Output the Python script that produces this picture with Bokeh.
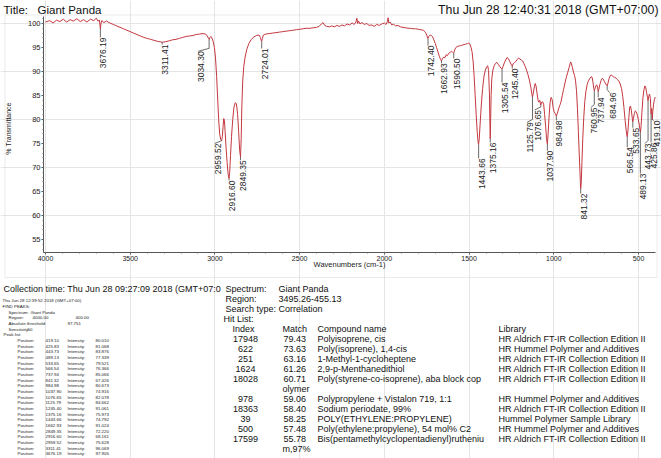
import math
from bokeh.plotting import figure
from bokeh.models import (Range1d, LabelSet, ColumnDataSource, BoxAnnotation,
                          FixedTicker, LinearAxis)
from bokeh.core.properties import value
from bokeh.embed import file_html
from bokeh.resources import INLINE

# ---------------- data ----------------
wavenumber = [
    4000, 3975, 3955, 3935, 3915, 3895, 3875, 3855, 3835, 3815, 3795, 3775, 3755, 3735, 3715, 3700,
    3690, 3682, 3678, 3676, 3673, 3668, 3655, 3640, 3620, 3600, 3580, 3560, 3540, 3520, 3500, 3480,
    3460, 3440, 3420, 3400, 3380, 3360, 3340, 3311, 3290, 3270, 3250, 3230, 3210, 3190, 3170, 3150,
    3130, 3110, 3090, 3070, 3055, 3045, 3038, 3034, 3029, 3024, 3018, 3010, 3003, 2997, 2990, 2984,
    2978, 2972, 2966, 2960, 2956, 2952, 2948, 2944, 2940, 2934, 2928, 2922, 2917, 2913, 2908, 2902,
    2895, 2888, 2880, 2873, 2866, 2860, 2854, 2849, 2845, 2841, 2836, 2830, 2822, 2812, 2800, 2785,
    2770, 2755, 2740, 2732, 2726, 2724, 2720, 2714, 2700, 2680, 2660, 2640, 2620, 2600, 2580, 2560,
    2540, 2520, 2500, 2480, 2460, 2440, 2420, 2400, 2385, 2372, 2362, 2352, 2340, 2325, 2310, 2295,
    2280, 2265, 2250, 2235, 2220, 2205, 2190, 2178, 2168, 2162, 2158, 2152, 2144, 2132, 2118, 2104,
    2090, 2075, 2060, 2045, 2030, 2015, 2000, 1990, 1982, 1978, 1974, 1966, 1956, 1946, 1935, 1920,
    1905, 1890, 1875, 1860, 1845, 1830, 1815, 1800, 1785, 1770, 1758, 1750, 1745, 1742, 1738, 1730,
    1722, 1715, 1708, 1700, 1692, 1684, 1676, 1668, 1663, 1658, 1650, 1642, 1635, 1628, 1620, 1612,
    1604, 1597, 1591, 1585, 1578, 1570, 1560, 1550, 1540, 1530, 1520, 1510, 1502, 1495, 1488, 1482,
    1476, 1470, 1464, 1458, 1452, 1447, 1444, 1440, 1435, 1428, 1420, 1412, 1404, 1396, 1390, 1385,
    1380, 1377, 1375, 1373, 1370, 1366, 1360, 1352, 1344, 1336, 1328, 1320, 1312, 1306, 1300, 1292,
    1284, 1276, 1268, 1260, 1252, 1245, 1240, 1232, 1224, 1216, 1208, 1200, 1192, 1184, 1176, 1168,
    1160, 1152, 1144, 1136, 1130, 1126, 1121, 1115, 1110, 1105, 1099, 1093, 1088, 1083, 1077, 1072,
    1066, 1060, 1054, 1048, 1043, 1038, 1034, 1028, 1022, 1016, 1010, 1004, 998, 991, 985, 979,
    972, 965, 958, 950, 942, 934, 926, 918, 910, 904, 900, 896, 890, 884, 878, 872,
    866, 860, 855, 850, 846, 843, 841, 838, 834, 829, 823, 817, 810, 803, 796, 788,
    780, 774, 769, 764, 761, 757, 751, 746, 742, 738, 734, 728, 721, 714, 708, 701,
    694, 688, 685, 680, 674, 668, 662, 655, 648, 640, 632, 624, 616, 608, 600, 593,
    586, 579, 573, 567, 562, 557, 552, 547, 542, 537, 534, 530, 525, 519, 513, 507,
    501, 495, 491, 489, 485, 480, 474, 468, 462, 457, 452, 447, 444, 440, 435, 430,
    426, 423, 421, 419, 416, 411, 406, 402, 400,
]
transmittance = [
    100.3, 100.6, 100.1, 100.7, 100.4, 100.9, 100.3, 100.8, 100.5, 101.0, 100.4, 100.8, 100.3, 100.9, 100.6, 101.1,
    100.5, 100.7, 99.6, 98.8, 99.9, 100.6, 100.2, 100.5, 100.1, 99.8, 99.5, 99.2, 98.9, 98.6, 98.3, 98.0,
    97.7, 97.4, 97.1, 96.9, 96.7, 96.5, 96.3, 96.1, 96.2, 96.4, 96.6, 96.7, 96.9, 97.1, 97.3, 97.4,
    97.5, 97.7, 97.8, 97.9, 97.8, 97.4, 96.9, 96.7, 97.1, 97.3, 97.0, 96.2, 95.0, 93.0, 89.0, 84.5,
    80.0, 77.0, 75.8, 75.6, 76.5, 78.5, 80.2, 79.8, 77.5, 74.0, 71.0, 68.6, 67.7, 69.0, 72.5, 76.5,
    80.0, 82.5, 83.5, 83.3, 81.0, 77.5, 73.5, 72.2, 76.0, 83.0, 88.0, 91.0, 93.0, 94.6, 95.8, 96.7,
    97.2, 97.5, 97.6, 97.1, 96.4, 96.3, 96.9, 97.6, 97.8, 97.9, 98.0, 98.1, 98.2, 98.3, 98.4, 98.5,
    98.6, 98.7, 98.8, 98.9, 99.0, 99.0, 99.1, 99.2, 99.4, 99.9, 100.2, 99.6, 99.4, 99.3, 99.5, 99.3,
    99.6, 99.4, 99.7, 99.5, 99.9, 99.7, 100.1, 99.8, 100.3, 101.1, 100.0, 100.5, 99.9, 100.2, 99.8, 100.0,
    99.6, 99.7, 99.4, 99.8, 99.6, 99.9, 100.1, 99.8, 100.4, 101.2, 100.1, 100.3, 99.7, 99.9, 99.5, 99.6,
    99.3, 99.2, 99.1, 99.0, 99.0, 98.9, 98.9, 98.8, 98.7, 98.6, 98.2, 97.6, 97.0, 96.9, 97.3, 97.6,
    97.5, 97.2, 96.6, 95.9, 95.0, 94.1, 93.2, 92.5, 92.2, 92.6, 93.0, 92.9, 93.5, 93.3, 93.8, 94.0,
    94.2, 94.0, 93.8, 94.5, 95.0, 95.2, 95.3, 95.4, 95.5, 95.6, 95.7, 95.8, 95.9, 95.7, 95.0, 94.0,
    92.0, 89.0, 85.0, 81.0, 77.5, 75.3, 74.8, 76.0, 79.0, 83.0, 86.5, 89.0, 90.3, 91.0, 91.2, 90.2,
    85.5, 79.0, 76.0, 79.5, 85.0, 88.5, 90.2, 91.2, 91.7, 91.9, 91.5, 91.1, 90.7, 90.5, 91.0, 91.8,
    92.4, 92.9, 92.7, 92.1, 91.5, 91.1, 91.6, 91.9, 92.1, 92.5, 92.8, 92.6, 92.4, 92.2, 91.6, 91.0,
    90.2, 89.3, 88.2, 86.8, 85.4, 84.7, 85.5, 86.8, 87.5, 87.0, 85.5, 84.0, 83.6, 84.0, 83.0, 83.6,
    83.7, 83.2, 81.0, 78.5, 76.0, 74.9, 76.8, 80.5, 83.5, 84.6, 84.2, 82.5, 81.6, 81.2, 80.7, 81.3,
    82.2, 82.9, 83.6, 85.0, 86.3, 87.6, 88.8, 89.8, 90.8, 91.6, 92.0, 91.6, 90.8, 89.9, 89.2, 88.2,
    86.0, 82.0, 77.5, 73.0, 69.5, 66.8, 65.6, 67.0, 71.0, 76.0, 80.5, 83.8, 86.0, 87.3, 88.0, 88.5,
    88.9, 88.8, 87.8, 86.5, 86.0, 86.4, 87.1, 87.2, 86.8, 85.8, 86.3, 87.3, 88.1, 88.6, 88.4, 87.9,
    87.4, 87.1, 87.0, 87.6, 88.5, 89.1, 89.3, 89.1, 88.9, 88.8, 88.6, 88.3, 88.0, 87.4, 86.4, 84.8,
    82.5, 79.8, 77.8, 76.4, 77.8, 80.5, 82.6, 82.8, 81.8, 80.3, 79.5, 80.2, 81.2, 81.8, 81.6, 80.9,
    80.0, 78.8, 77.8, 77.3, 78.5, 81.5, 84.5, 86.2, 87.0, 86.6, 85.6, 84.6, 83.9, 84.8, 85.3, 84.4,
    81.1, 82.3, 82.0, 80.0, 81.6, 83.2, 84.2, 84.6, 84.5,
]

peak_labels = ["3676.19", "3311.41", "3034.30", "2959.52", "2916.60", "2849.35", "2724.01",
               "1742.40", "1662.93", "1590.50", "1443.66", "1375.16", "1305.54", "1245.40",
               "1125.79", "1076.65", "1037.90", "984.98", "841.32", "760.95", "737.94",
               "684.96", "566.54", "533.65", "489.13", "443.73", "425.86", "419.10"]
peak_tip = [98.8, 96.1, 96.7, 75.6, 67.7, 72.2, 96.3,
            96.9, 92.2, 93.8, 74.8, 76.0, 90.5, 91.1,
            84.7, 83.0, 74.9, 80.7, 65.6, 86.0, 85.8,
            87.0, 76.4, 79.5, 77.3, 83.9, 81.1, 80.0]

table_pos = ["419.10", "425.83", "443.73", "489.13", "533.65", "566.54", "737.94", "841.32",
             "984.98", "1037.90", "1076.65", "1125.79", "1245.40", "1375.16", "1443.66",
             "1662.93", "2849.35", "2916.60", "2959.52", "3311.41", "3676.19"]
table_int = ["80.010", "81.068", "83.876", "77.339", "79.521", "76.366", "85.066", "67.426",
             "80.673", "74.916", "82.078", "84.662", "91.061", "75.973", "74.792",
             "91.024", "72.220", "68.161", "75.628", "96.069", "97.905"]

hit_index = ["17948", "622", "251", "1624", "18028", "978", "18363", "39", "500", "17599"]
hit_match = ["79.43", "73.63", "63.16", "61.26", "60.71", "59.06", "58.40", "58.25", "57.48", "55.78"]
hit_name = ["Polyisoprene, cis", "Poly(isoprene), 1,4-cis", "1-Methyl-1-cycloheptene",
            "2,9-p-Menthanedithiol", "Poly(styrene-co-isoprene), aba block cop",
            "Polypropylene + Vistalon 719, 1:1", "Sodium periodate, 99%",
            "POLY(ETHYLENE:PROPYLENE)", "Poly(ethylene:propylene), 54 mol% C2",
            "Bis(pentamethylcyclopentadienyl)rutheniu"]
hit_wrap = ["", "", "", "", "olymer", "", "", "", "", "m,97%"]
hit_library = ["HR Aldrich FT-IR Collection Edition II", "HR Hummel Polymer and Additives",
               "HR Aldrich FT-IR Collection Edition II", "HR Aldrich FT-IR Collection Edition II",
               "HR Aldrich FT-IR Collection Edition II", "HR Hummel Polymer and Additives",
               "HR Aldrich FT-IR Collection Edition II", "Hummel Polymer Sample Library",
               "HR Hummel Polymer and Additives", "HR Aldrich FT-IR Collection Edition II"]

x_ticks = [4000, 3500, 3000, 2500, 2000, 1500, 1000, 500]
y_ticks = [55, 60, 65, 70, 75, 80, 85, 90, 95, 100]

# ---------------- layout ----------------
W, H = 661, 458
WN_PER_PX = 5.902          # wavenumber per pixel
PX_PER_T = 4.8             # pixels per % transmittance
SANS = "Liberation Sans"


def dx(px):
    """data x of a pixel column"""
    return 4000 - (px - 45) * WN_PER_PX


def dy(py):
    """data y of a pixel row"""
    return 100 - (py - 23) / PX_PER_T


p = figure(width=W, height=H, output_backend="svg", toolbar_location=None,
           x_range=Range1d(dx(0), dx(W)), y_range=Range1d(dy(H), dy(0)),
           x_axis_location=None, y_axis_location=None, min_border=0)
p.outline_line_color = None
p.background_fill_color = "white"
p.border_fill_color = "white"

xaxis = LinearAxis(fixed_location=dy(252), bounds=(400, dx(43)),
                   ticker=FixedTicker(ticks=x_ticks, minor_ticks=list(range(500, 4001, 100))))
yaxis = LinearAxis(fixed_location=dx(43), bounds=(dy(252), dy(16)),
                   ticker=FixedTicker(ticks=y_ticks, minor_ticks=list(range(53, 102))))
for ax in (xaxis, yaxis):
    ax.axis_line_color = "#555555"
    ax.major_tick_line_color = "#555555"
    ax.minor_tick_line_color = "#777777"
    ax.major_tick_in = 0
    ax.minor_tick_in = 0
    ax.major_tick_out = 2
    ax.minor_tick_out = 1
    ax.major_label_text_font = SANS
    ax.major_label_text_color = "#222222"
    ax.major_label_standoff = 1
xaxis.major_label_text_font_size = "7px"
yaxis.major_label_text_font_size = "7.5px"
p.add_layout(xaxis, "below")
p.add_layout(yaxis, "left")

# outer frame around the spectrum panel
p.add_layout(BoxAnnotation(left=dx(4.5), right=dx(656.5), top=dy(14.5), bottom=dy(277),
                           fill_color=None, fill_alpha=0, line_color="#bdbdbd", line_width=1))

# spectrum
p.line(wavenumber, transmittance, line_color="#c3373f", line_width=1)

# peak labels and leaders
label_shift_px = [0, 0, -11, -7, 0, 0, 0, 0, 0, 0, 0, 0, 0, 0,
                  -5.5, -6, 0, 0, 0, -3.5, 0, 2.5, 0, 0, 0, -3, 0, 1.5]
label_top = [97.1, 95.6, 94.2, 75.0, 67.3, 71.5, 94.8, 95.4, 91.7, 92.7, 71.9, 75.2, 87.7, 90.6,
             79.4, 82.0, 73.5, 79.8, 64.6, 82.5, 84.6, 85.6, 74.2, 78.3, 68.75, 75.0, 75.2, 79.8]
peak_wn = [float(s) for s in peak_labels]
lab_x = [w - s * WN_PER_PX for w, s in zip(peak_wn, label_shift_px)]
lead_xs, lead_ys = [], []
for w, tip, lx, top, s in zip(peak_wn, peak_tip, lab_x, label_top, label_shift_px):
    if s == 0:
        lead_xs.append([w, w])
        lead_ys.append([tip, top])
    else:
        bend = min(tip, top + 3 / PX_PER_T)
        lead_xs.append([w, w, lx])
        lead_ys.append([tip, bend, top])
p.multi_line(lead_xs, lead_ys, line_color="#444444", line_width=0.8)
p.add_layout(LabelSet(x="x", y="y", text="text",
                      source=ColumnDataSource(dict(x=lab_x, y=label_top, text=peak_labels)),
                      angle=math.pi / 2, text_align="right", text_baseline="top",
                      text_font=value(SANS), text_font_size="8.5px", text_color="#222222"))


def add_text(items, size, align="left", color="#111111", angle=0.0):
    src = ColumnDataSource(dict(x=[dx(it[1]) for it in items],
                                y=[dy(it[2]) for it in items],
                                text=[it[0] for it in items]))
    p.add_layout(LabelSet(x="x", y="y", text="text", source=src, angle=angle,
                          text_align=align, text_baseline="middle",
                          text_font=value(SANS), text_font_size=size, text_color=color))


# title row
add_text([("Title:", 3, 9), ("Giant Panda", 37, 9)], "11.5px")
add_text([("Thu Jun 28 12:40:31 2018 (GMT+07:00)", 658, 9)], "12.3px", align="right")

# axis titles
add_text([("Wavenumbers (cm-1)", 349, 264)], "7.5px", align="center", color="#222222")
add_text([("% Transmittance", 8, 128)], "7px", align="center",
         color="#222222", angle=math.pi / 2)

# collection time
add_text([("Collection time: Thu Jun 28 09:27:09 2018 (GMT+07:0", 3, 288)], "9px")

# left: find peaks report
ls = 5.66
y0 = 340 - 7 * ls
left_items = [("Thu Jun 28 12:39:52 2018 (GMT+07:00)", 2, y0),
              ("FIND PEAKS:", 2, y0 + ls),
              ("Spectrum:", 8, y0 + 2 * ls), ("Giant Panda", 30, y0 + 2 * ls),
              ("Region:", 8, y0 + 3 * ls), ("4000.00", 32, y0 + 3 * ls),
              ("400.00", 75, y0 + 3 * ls),
              ("Absolute threshold:", 8, y0 + 4 * ls), ("97.751", 67, y0 + 4 * ls),
              ("Sensitivity:", 8, y0 + 5 * ls), ("50", 27, y0 + 5 * ls),
              ("Peak list:", 3, y0 + 6 * ls)]
for k, (pos, inten) in enumerate(zip(table_pos, table_int)):
    yy = 340 + k * ls
    left_items += [("Position:", 17, yy), (pos, 45, yy), ("Intensity:", 67, yy), (inten, 95, yy)]
add_text(left_items, "4.4px", color="#222222")

# right: search report
rs = 10.0
right_items = [("Spectrum:", 225, 288), ("Giant Panda", 278, 288),
               ("Region:", 225, 298), ("3495.26-455.13", 278, 298),
               ("Search type:", 225, 308), ("Correlation", 278, 308),
               ("Hit List:", 223, 318),
               ("Index", 232, 328), ("Match", 282, 328), ("Compound name", 317, 328),
               ("Library", 498, 328)]
idx_items = []
line = 0
for i in range(len(hit_index)):
    yy = 338 + line * rs
    idx_items.append((hit_index[i], 245, yy))
    right_items += [(hit_match[i], 283, yy), (hit_name[i], 317, yy), (hit_library[i], 498, yy)]
    line += 1
    if hit_wrap[i]:
        right_items.append((hit_wrap[i], 282, 338 + line * rs))
        line += 1
add_text(right_items, "9px")
add_text(idx_items, "9px", align="center")

open("out.html", "w").write(file_html(p, INLINE))
